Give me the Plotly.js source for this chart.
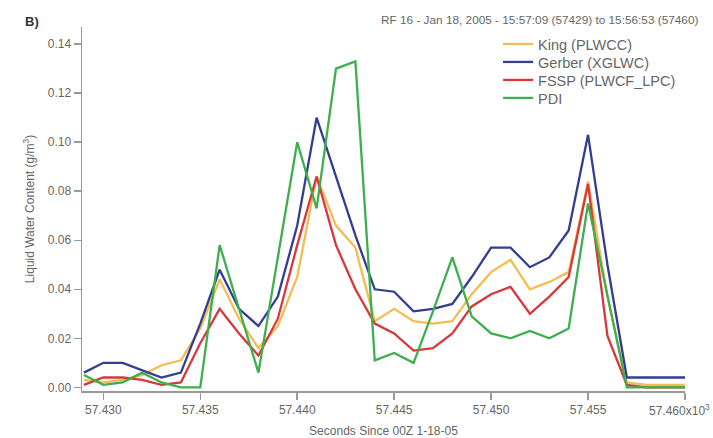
<!DOCTYPE html>
<html>
<head>
<meta charset="utf-8">
<script src="https://cdn.plot.ly/plotly-3.0.1.min.js"></script>
<style>html,body{margin:0;padding:0;background:#fff;}#chart{width:713px;height:438px;}</style>
</head>
<body>
<div id="chart"></div>
<script>
const seconds = [57429,57430,57431,57432,57433,57434,57435,57436,57437,57438,57439,57440,57441,57442,57443,57444,
                 57445,57446,57447,57448,57449,57450,57451,57452,57453,57454,57455,57456,57457,57458,57459,57460];
const king   = [0.003,0.002,0.003,0.005,0.009,0.011,0.024,0.044,0.028,0.016,0.025,0.045,0.086,0.066,0.057,0.027,
                0.032,0.027,0.026,0.027,0.038,0.047,0.052,0.040,0.043,0.047,0.084,0.037,0.002,0.001,0.001,0.001];
const gerber = [0.006,0.010,0.010,0.007,0.004,0.006,0.026,0.048,0.032,0.025,0.037,0.066,0.110,0.086,0.062,0.040,
                0.039,0.031,0.032,0.034,0.045,0.057,0.057,0.049,0.053,0.064,0.103,0.050,0.004,0.004,0.004,0.004];
const fssp   = [0.001,0.004,0.004,0.003,0.001,0.002,0.018,0.032,0.022,0.013,0.028,0.058,0.086,0.058,0.040,0.026,
                0.022,0.015,0.016,0.022,0.033,0.038,0.041,0.030,0.037,0.045,0.083,0.021,0.001,0.000,0.000,0.000];
const pdi    = [0.005,0.001,0.002,0.006,0.002,0.000,0.000,0.058,0.032,0.006,0.053,0.100,0.073,0.130,0.133,0.011,
                0.014,0.010,0.031,0.053,0.029,0.022,0.020,0.023,0.020,0.024,0.075,0.037,0.000,0.000,0.000,0.000];
const seriesNames = ['King (PLWCC)','Gerber (XGLWC)','FSSP (PLWCF_LPC)','PDI'];
const xTickVals = [57430,57435,57440,57445,57450,57455,57460];
const xTickText = ['57.430','57.435','57.440','57.445','57.450','57.455','57.460x10³'];
const yTickVals = [0,0.02,0.04,0.06,0.08,0.10,0.12,0.14];
const yTickText = ['0.00','0.02','0.04','0.06','0.08','0.10','0.12','0.14'];

const colors = ['#f3bd52','#333d92','#d8383a','#3daf4e'];
const legendIds = ['legend','legend2','legend3','legend4'];
const ys = [king, gerber, fssp, pdi];
const traces = ys.map((y,i)=>({
  x: seconds, y: y, type:'scatter', mode:'lines', name: seriesNames[i], legend: legendIds[i],
  line:{color: colors[i], width: 2.3}
}));

const F = 'Liberation Sans, Arial, sans-serif';
const plotTop = 27, plotH = 364;
const rowPx = [44, 62, 80, 98];
// last tick label is drawn as an annotation so that it stays inside the page
const axisTickText = xTickText.map((t,i)=> i === xTickText.length-1 ? '' : t);
const layout = {
  width:713, height:438,
  margin:{l:82, r:28, t:plotTop, b:47},
  paper_bgcolor:'#fff', plot_bgcolor:'#fff',
  font:{family:F, color:'#666', size:12},
  showlegend:true,
  xaxis:{range:[57428.9,57460], showgrid:false, zeroline:false, showline:true, linecolor:'#999', linewidth:1.5,
         ticks:'outside', ticklen:7, tickcolor:'#999', tickwidth:1.5,
         tickmode:'array', tickvals:xTickVals, ticktext:axisTickText,
         tickfont:{family:F, size:12, color:'#666'},
         title:{text:'Seconds Since 00Z 1-18-05', font:{family:F, size:12, color:'#666'}, standoff:11}},
  yaxis:{range:[-0.0015,0.147], showgrid:false, zeroline:false, showline:true, linecolor:'#999', linewidth:1.5,
         ticks:'outside', ticklen:7, tickcolor:'#999', tickwidth:1.5,
         tickmode:'array', tickvals:yTickVals, ticktext:yTickText,
         tickfont:{family:F, size:12, color:'#666'},
         title:{text:'Liquid Water Content (g/m<sup>3</sup>)', font:{family:F, size:12, color:'#666'}, standoff:10}},
  annotations:[
    {text:'<b>B)</b>', xref:'paper', yref:'paper', x:-0.098, y:(plotTop+plotH-21)/plotH, xanchor:'left', yanchor:'middle',
     showarrow:false, font:{family:F, size:13, color:'#333'}},
    {text:'RF 16 - Jan 18, 2005 - 15:57:09 (57429) to 15:56:53 (57460)', xref:'paper', yref:'paper',
     x:1.025, y:(plotTop+plotH-20)/plotH, xanchor:'right', yanchor:'middle', showarrow:false,
     font:{family:F, size:11.8, color:'#666'}},
    {text: xTickText[xTickText.length-1].replace('³','<sup>3</sup>'), xref:'paper', yref:'paper',
     x:1.044, y:-(410-391)/plotH, xanchor:'right', yanchor:'middle', showarrow:false,
     font:{family:F, size:12, color:'#666'}}
  ]
};
legendIds.forEach((id,i)=>{
  layout[id] = {x:0.69, y:(plotTop+plotH-rowPx[i])/plotH, xanchor:'left', yanchor:'middle',
                bgcolor:'rgba(0,0,0,0)', font:{family:F, size:14.5, color:'#666'}};
});
Plotly.newPlot('chart', traces, layout, {displayModeBar:false, staticPlot:true});
</script>
</body>
</html>
